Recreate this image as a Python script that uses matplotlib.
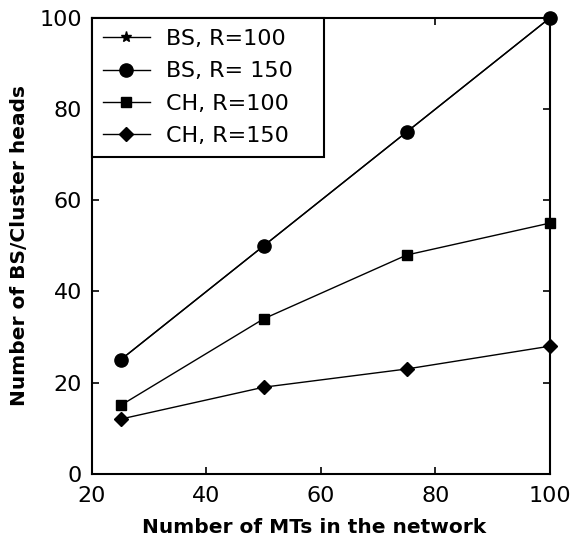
import matplotlib
matplotlib.use('Agg')
import matplotlib.pyplot as plt

plt.rcParams['font.family'] = ['DejaVu Sans']

# Données
mts = [25, 50, 75, 100]
bs_r100 = [25, 50, 75, 100]
bs_r150 = [25, 50, 75, 100]
ch_r100 = [15, 34, 48, 55]
ch_r150 = [12, 19, 23, 28]

fig = plt.figure(figsize=(5.71, 5.44), dpi=100)
ax = fig.add_axes([0.161, 0.129, 0.802, 0.838])

ax.plot(mts, bs_r100, color='black', lw=1, marker='*', ms=8, label='BS, R=100', clip_on=False)
ax.plot(mts, bs_r150, color='black', lw=1, marker='o', ms=9.5, label='BS, R= 150', clip_on=False)
ax.plot(mts, ch_r100, color='black', lw=1, marker='s', ms=7.5, label='CH, R=100', clip_on=False)
ax.plot(mts, ch_r150, color='black', lw=1, marker='D', ms=7, label='CH, R=150', clip_on=False)

ax.set_xlim(20, 100)
ax.set_ylim(0, 100)
ax.set_xticks([20, 40, 60, 80, 100])
ax.set_yticks([0, 20, 40, 60, 80, 100])
ax.tick_params(direction='in', top=True, right=True, labelsize=16, length=5, width=1.2)
ax.tick_params(axis='x', pad=9)
ax.tick_params(axis='y', pad=7)
for s in ax.spines.values():
    s.set_linewidth(1.5)

ax.set_xlabel('Number of MTs in the network', fontsize=14.5, fontweight='bold')
ax.set_ylabel('Number of BS/Cluster heads', fontsize=14.5, fontweight='bold')
ax.xaxis.set_label_coords(0.486, -0.096)
ax.yaxis.set_label_coords(-0.137, 0.5)

leg = ax.legend(loc='upper left', bbox_to_anchor=(0, 0, 0.507, 1), mode='expand',
                fontsize=16, fancybox=False, framealpha=1, edgecolor='black',
                borderaxespad=0, handlelength=2.1, handletextpad=0.75,
                labelspacing=0.55, borderpad=0.5)
leg.get_frame().set_linewidth(1.5)

fig.savefig('out.png', dpi=100)
